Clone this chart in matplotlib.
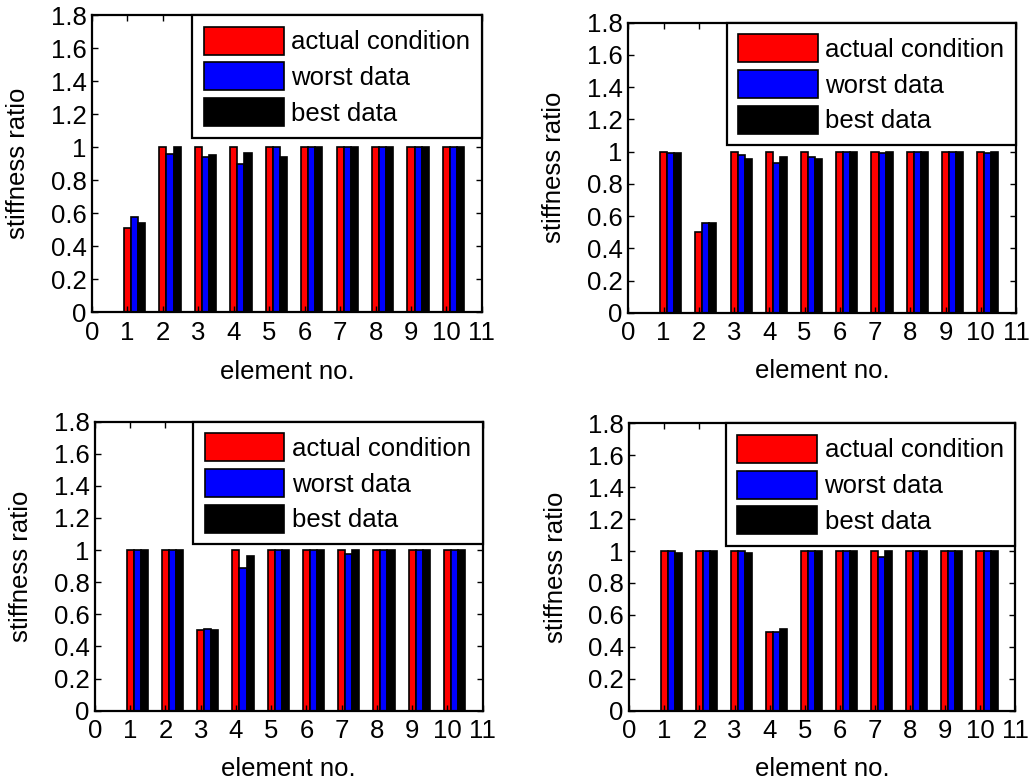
import matplotlib
matplotlib.use("Agg")
import matplotlib.pyplot as plt
import numpy as np

plt.rcParams["font.family"] = ["Liberation Sans", "DejaVu Sans"]

elements = np.arange(1, 11)
series_names = ["actual condition", "worst data", "best data"]
series_colors = ["#ff0000", "#0000ff", "#000000"]

# top-left panel: element 1 damaged
actual_a = [0.51, 1, 1, 1, 1, 1, 1, 1, 1, 1]
worst_a = [0.58, 0.96, 0.94, 0.90, 1, 1, 1, 1, 1, 1]
best_a = [0.54, 1, 0.953, 0.965, 0.94, 1, 1, 1, 1, 1]

# top-right panel: element 2 damaged
actual_b = [1, 0.50, 1, 1, 1, 1, 1, 1, 1, 1]
worst_b = [0.99, 0.56, 0.98, 0.93, 0.967, 1, 0.99, 1, 1, 0.99]
best_b = [0.99, 0.56, 0.955, 0.967, 0.955, 1, 1, 1, 1, 1]

# bottom-left panel: element 3 damaged
actual_c = [1, 1, 0.50, 1, 1, 1, 1, 1, 1, 1]
worst_c = [1, 1, 0.51, 0.89, 1, 1, 0.975, 1, 1, 1]
best_c = [1, 1, 0.50, 0.965, 1, 1, 1, 1, 1, 1]

# bottom-right panel: element 4 damaged
actual_d = [1, 1, 1, 0.495, 1, 1, 1, 1, 1, 1]
worst_d = [1, 1, 1, 0.495, 1, 1, 0.965, 1, 1, 1]
best_d = [0.99, 1, 0.99, 0.51, 1, 1, 1, 1, 1, 1]

x_ticks = list(range(0, 12))
y_ticks = [0, 0.2, 0.4, 0.6, 0.8, 1.0, 1.2, 1.4, 1.6, 1.8]

FS = 18.5

fig = plt.figure(figsize=(10.3, 7.82), dpi=100)

panels = [
    ([0.0893, 0.6006, 0.3786, 0.3802], (actual_a, worst_a, best_a)),
    ([0.6100, 0.6001, 0.3764, 0.3708], (actual_b, worst_b, best_b)),
    ([0.0922, 0.0912, 0.3764, 0.3696], (actual_c, worst_c, best_c)),
    ([0.6110, 0.0912, 0.3745, 0.3675], (actual_d, worst_d, best_d)),
]

width = 0.2
for rect, data in panels:
    ax = fig.add_axes(rect)
    for k, (vals, name, col) in enumerate(zip(data, series_names, series_colors)):
        ax.bar(elements + k * width, vals, width, color=col, edgecolor="black",
               linewidth=1.2, label=name)
    ax.set_xlim(0, 11)
    ax.set_ylim(0, 1.8)
    ax.set_xticks(x_ticks)
    ax.set_yticks(y_ticks)
    ax.set_yticklabels([f"{v:g}" for v in y_ticks])
    ax.tick_params(direction="in", top=True, right=True, length=4, width=1,
                   labelsize=FS)
    ax.tick_params(axis="x", pad=6)
    ax.tick_params(axis="y", pad=4)
    for sp in ax.spines.values():
        sp.set_linewidth(1.6)
    ax.set_xlabel("element no.", fontsize=FS)
    ax.set_ylabel("stiffness ratio", fontsize=FS)
    ax.xaxis.set_label_coords(0.5, -0.16)
    ax.yaxis.set_label_coords(-0.16, 0.5)
    leg = ax.legend(loc="upper right", fontsize=FS, frameon=True, fancybox=False,
                    borderaxespad=0, handlelength=3.1, handleheight=1.3,
                    handletextpad=0.3, labelspacing=0.3, borderpad=0.45)
    leg.get_frame().set_edgecolor("black")
    leg.get_frame().set_linewidth(1.6)
    leg.get_frame().set_alpha(1)

fig.savefig("out.png", dpi=100)
